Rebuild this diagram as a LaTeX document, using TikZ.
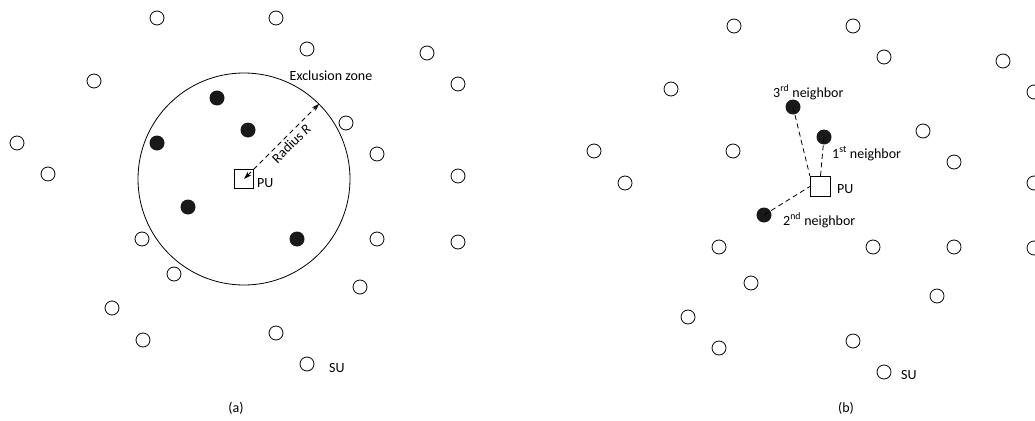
\documentclass[tikz,border=0pt]{standalone}
\usepackage{fontspec}
\setmainfont{Carlito}
\usetikzlibrary{arrows.meta}
\begin{document}
\begin{tikzpicture}[x=1pt,y=-1pt,
  su/.style={circle,draw,line width=0.8pt,minimum size=14pt,inner sep=0pt},
  nb/.style={circle,fill=black!90,minimum size=15pt,inner sep=0pt},
  pu/.style={draw,line width=0.8pt,minimum size=19.5pt,inner sep=0pt},
  lbl/.style={font=\fontsize{14}{16}\selectfont,inner sep=0pt},
  conn/.style={line width=0.8pt,dash pattern=on 5pt off 3.5pt},
  zonestyle/.style={circle,draw,line width=0.8pt,minimum size=212pt,inner sep=0pt}]
\useasboundingbox (0,0) rectangle (1035,420);
% ---------- panel (a) ----------
\foreach \p [count=\i] in {(157,18),(276,18),(307,49),(427,53),(94,81),(458,84),(346,123),(17,143),(377,154),(48,174),(458,176),(142,239),(377,239),(458,242),(174,274),(360,287),(112,308),(143,340),(276,333)}
  \node[su] (a\i) at \p {};
\node[su] (asu) at (307,364) {};
\foreach \p [count=\i] in {(217,98),(248,130),(157,143),(188,207),(297,239)}
  \node[nb] (af\i) at \p {};
\node[pu] (apu) at (244,179) {};
\node[zonestyle] (zone) at (244,179) {};
\draw[conn,{Stealth[length=8pt,width=5pt]}-{Stealth[length=8pt,width=5pt]}] (apu.center) -- (zone.45)
  node[lbl,pos=0.55,sloped,below=3pt] {Radius \textit{R}};
\node[lbl,anchor=base] (zl) at (331,81) {Exclusion zone};
\node[lbl,anchor=base west] (apul) at (257,187) {PU};
\node[lbl,anchor=base west] (asul) at (329,372) {SU};
\node[lbl,anchor=base] (capa) at (236,412) {(a)};
% ---------- panel (b) ----------
\foreach \p [count=\i] in {(734,26),(853,26),(884,57),(1003,61),(671,89),(923,131),(594,151),(733,151),(954,162),(625,183),(719,247),(873,247),(954,247),(751,283),(937,296),(688,317),(719,348),(853,341),(1034,92),(1034,183),(1034,248)}
  \node[su] (b\i) at \p {};
\node[su] (bsu) at (884,372) {};
\node[nb] (n3) at (793,107) {};
\node[nb] (n1) at (824,137) {};
\node[nb] (n2) at (764,215) {};
\node[pu,minimum size=20.5pt] (bpu) at (820.5,186.5) {};
\draw[conn] (n3.center) -- (bpu.north west);
\draw[conn] (n1.center) -- (bpu.north);
\draw[conn] (n2.center) -- (bpu.west);
\node[lbl,anchor=base west] (l3) at (773,97) {3\textsuperscript{rd} neighbor};
\node[lbl,anchor=base west] (l1) at (832,158) {1\textsuperscript{st} neighbor};
\node[lbl,anchor=base west] (l2) at (783,225) {2\textsuperscript{nd} neighbor};
\node[lbl,anchor=base west] (bpul) at (837,193) {PU};
\node[lbl,anchor=base west] (bsul) at (901,379) {SU};
\node[lbl,anchor=base] (capb) at (846,412) {(b)};
\end{tikzpicture}
\end{document}
